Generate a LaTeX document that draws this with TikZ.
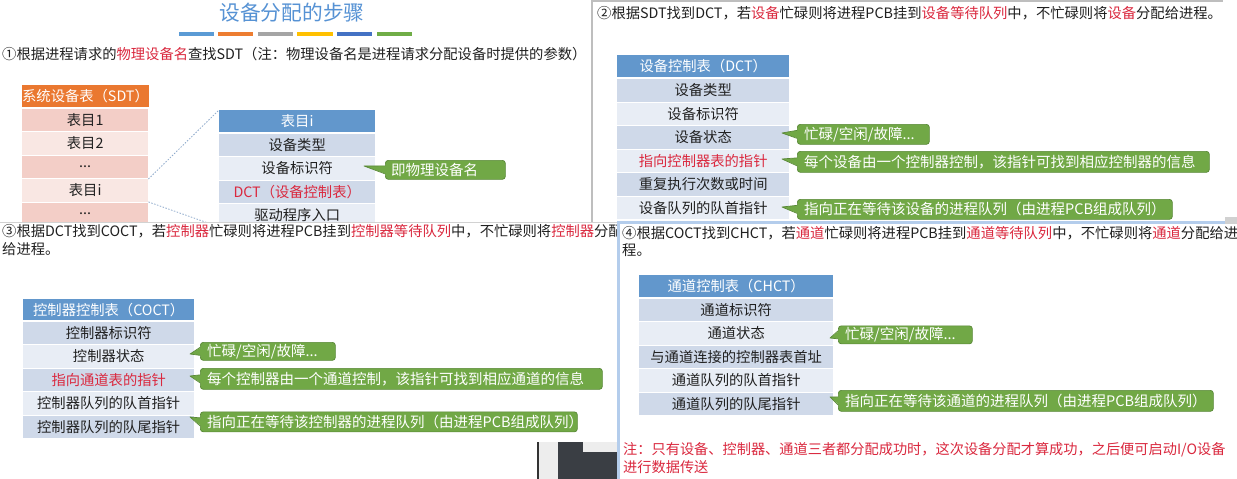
\documentclass[tikz,border=0pt]{standalone}
\usepackage{fontspec}
\setmainfont{Noto Sans CJK SC}
\usetikzlibrary{calc}
\definecolor{txtc}{RGB}{32,32,32}
\definecolor{redc}{RGB}{218,40,62}
\definecolor{titleb}{RGB}{86,146,212}
\definecolor{hblue}{RGB}{98,151,204}
\definecolor{rdark}{RGB}{207,217,233}
\definecolor{rlight}{RGB}{232,237,245}
\definecolor{horange}{RGB}{234,120,48}
\definecolor{sdark}{RGB}{243,206,199}
\definecolor{slight}{RGB}{249,231,227}
\definecolor{cgreen}{RGB}{113,168,70}
\definecolor{cgreenb}{RGB}{88,136,54}
\definecolor{bara}{RGB}{91,155,213}
\definecolor{barb}{RGB}{237,125,49}
\definecolor{barc}{RGB}{165,165,165}
\definecolor{bard}{RGB}{255,192,0}
\definecolor{bare}{RGB}{68,114,196}
\definecolor{barf}{RGB}{112,173,71}
\definecolor{dotc}{RGB}{143,170,204}
\definecolor{pgray}{RGB}{190,190,190}
\definecolor{pblue}{RGB}{180,205,236}
\definecolor{darkb}{RGB}{58,62,68}
\definecolor{lightb}{RGB}{237,237,237}
\newcommand\fsz[1]{\fontsize{#1pt}{#1pt}\selectfont}
\newcommand\redtx[1]{\textcolor{redc}{#1}}
\newcommand\wedgeto[2]{%
  \fill[cgreen] ($(#1.west)+(1,-4)$) -- #2 -- ($(#1.west)+(1,4)$) -- cycle;
  \draw[cgreenb, line width=0.7pt, line join=round] ($(#1.west)+(0,-4)$) -- #2 -- ($(#1.west)+(0,4)$);}
\tikzset{
  txt/.style={anchor=west, inner sep=0pt, font=\fsz{14.3}, text=txtc},
  cell/.style={anchor=north west, inner sep=0pt, font=\fsz{14.3}, text=txtc},
  hdrb/.style={cell, fill=hblue, text=white},
  rowd/.style={cell, fill=rdark},
  rowl/.style={cell, fill=rlight},
  hdro/.style={cell, fill=horange, text=white},
  sdtd/.style={cell, fill=sdark},
  sdtl/.style={cell, fill=slight},
  cbox/.style={anchor=north west, inner sep=0pt, fill=cgreen, draw=cgreenb, line width=0.7pt, rounded corners=3pt},
  ctext/.style={anchor=west, inner sep=0pt, text=white, font=\fsz{14.5}},
  zoomline/.style={dotc, line width=0.8pt, dash pattern=on 1.5pt off 1.5pt}
}
\begin{document}
\begin{tikzpicture}[x=1pt,y=-1pt]
\useasboundingbox (0,0) rectangle (1237,479);
\fill[white] (0,0) rectangle (1237,479);

% ---------------- Panel 1 ----------------
\node[anchor=center, inner sep=0pt, font=\fsz{20.7}, text=titleb] (title) at (292,13) {设备分配的步骤};
\fill[bara] (179,31.5) rectangle (214,35.5);
\fill[barb] (218,31.5) rectangle (253,35.5);
\fill[barc] (258,31.5) rectangle (293,35.5);
\fill[bard] (297,31.5) rectangle (333,35.5);
\fill[bare] (337,31.5) rectangle (372,35.5);
\fill[barf] (377,31.5) rectangle (412,35.5);
\node[txt] (t1) at (2,54) {①根据进程请求的\redtx{物理设备名}查找SDT（注：物理设备名是进程请求分配设备时提供的参数）};

\node[hdro, minimum width=126pt, minimum height=22pt] (sh) at (22,85) {系统设备表（SDT）};
\node[sdtd, minimum width=126pt, minimum height=22.5pt] (s1) at (22,108.5) {表目1};
\node[sdtl, minimum width=126pt, minimum height=22.5pt] (s2) at (22,132) {表目2};
\node[sdtd, minimum width=126pt, minimum height=22.5pt] (s3) at (22,155.5) {...};
\node[sdtl, minimum width=126pt, minimum height=22.5pt] (s4) at (22,179) {表目i};
\node[sdtd, minimum width=126pt, minimum height=22.5pt] (s5) at (22,202.5) {...};

\node[hdrb, minimum width=156pt, minimum height=22pt] (eh) at (219,110) {表目i};
\node[rowd, minimum width=156pt, minimum height=22.5pt] (e1) at (219,133.5) {设备类型};
\node[rowl, minimum width=156pt, minimum height=22.5pt] (e2) at (219,157) {设备标识符};
\node[rowd, minimum width=156pt, minimum height=22.5pt, text=redc] (e3) at (219,180.5) {DCT（设备控制表）};
\node[rowl, minimum width=156pt, minimum height=22.5pt] (e4) at (219,204) {驱动程序入口};
\draw[zoomline] (s4.north east) -- (eh.north west);
\draw[zoomline] (s4.south east) -- (e4.south west);

\node[cbox, minimum width=120pt, minimum height=19pt] (cA) at (385,160) {};
\node[ctext] (cAt) at ([xshift=6pt]cA.west) {即物理设备名};
\coordinate (tA) at (364,166);
\wedgeto{cA}{(tA)}

% ---------------- Panel 2 ----------------
\fill[white] (592,0) rectangle (1237,222);
\draw[pgray, line width=1.5pt] (592,0) -- (592,222);
\draw[pgray, line width=1.5pt] (592,1) -- (1223,1);
\node[txt] (t2) at (597,13) {②根据SDT找到DCT，若\redtx{设备}忙碌则将进程PCB挂到\redtx{设备等待队列}中，不忙碌则将\redtx{设备}分配给进程。};

\node[hdrb, minimum width=172pt, minimum height=22pt] (dh) at (617,55) {设备控制表（DCT）};
\node[rowd, minimum width=172pt, minimum height=22.5pt] (d1) at (617,79) {设备类型};
\node[rowl, minimum width=172pt, minimum height=22.5pt] (d2) at (617,102.5) {设备标识符};
\node[rowd, minimum width=172pt, minimum height=22.5pt] (d3) at (617,126) {设备状态};
\node[rowl, minimum width=172pt, minimum height=22.5pt, text=redc] (d4) at (617,149.5) {指向控制器表的指针};
\node[rowd, minimum width=172pt, minimum height=22.5pt] (d5) at (617,173) {重复执行次数或时间};
\node[rowl, minimum width=172pt, minimum height=22.5pt] (d6) at (617,196.5) {设备队列的队首指针};

\node[cbox, minimum width=132pt, minimum height=20pt] (cB1) at (797,124) {};
\node[ctext] (cB1t) at ([xshift=7pt]cB1.west) {忙碌/空闲/故障...};
\coordinate (tB1) at (782,133);
\wedgeto{cB1}{(tB1)}
\node[cbox, minimum width=412pt, minimum height=21pt] (cB2) at (797,151) {};
\node[ctext] (cB2t) at ([xshift=7pt]cB2.west) {每个设备由一个控制器控制，该指针可找到相应控制器的信息};
\coordinate (tB2) at (782,159);
\wedgeto{cB2}{(tB2)}
\node[cbox, minimum width=375pt, minimum height=20pt] (cB3) at (797,199) {};
\node[ctext] (cB3t) at ([xshift=7pt]cB3.west) {指向正在等待该设备的进程队列（由进程PCB组成队列）};
\coordinate (tB3) at (782,207);
\wedgeto{cB3}{(tB3)}

% ---------------- Panel 3 ----------------
\fill[white] (0,222) rectangle (617,479);
\draw[pgray!70, line width=0.8pt] (0,222.4) -- (617,222.4);
\node[txt] (t3a) at (2,231) {③根据DCT找到COCT，若\redtx{控制器}忙碌则将进程PCB挂到\redtx{控制器等待队列}中，不忙碌则将\redtx{控制器}分配};
\node[txt] (t3b) at (2,249) {给进程。};

\node[hdrb, minimum width=171pt, minimum height=21pt] (ch) at (23,299) {控制器控制表（COCT）};
\node[rowd, minimum width=171pt, minimum height=22.5pt] (c1) at (23,321.5) {控制器标识符};
\node[rowl, minimum width=171pt, minimum height=22.5pt] (c2) at (23,345) {控制器状态};
\node[rowd, minimum width=171pt, minimum height=22.5pt, text=redc] (c3) at (23,368.5) {指向通道表的指针};
\node[rowl, minimum width=171pt, minimum height=22.5pt] (c4) at (23,392) {控制器队列的队首指针};
\node[rowd, minimum width=171pt, minimum height=22.5pt] (c5) at (23,415.5) {控制器队列的队尾指针};

\node[cbox, minimum width=135pt, minimum height=18pt] (cC1) at (200,342) {};
\node[ctext] (cC1t) at ([xshift=7pt]cC1.west) {忙碌/空闲/故障...};
\coordinate (tC1) at (190,354);
\wedgeto{cC1}{(tC1)}
\node[cbox, minimum width=402pt, minimum height=21pt] (cC2) at (200,368) {};
\node[ctext] (cC2t) at ([xshift=7pt]cC2.west) {每个控制器由一个通道控制，该指针可找到相应通道的信息};
\coordinate (tC2) at (190,376);
\wedgeto{cC2}{(tC2)}
\node[cbox, minimum width=377pt, minimum height=20pt] (cC3) at (200,411.5) {};
\node[ctext] (cC3t) at ([xshift=7pt]cC3.west) {指向正在等待该控制器的进程队列（由进程PCB组成队列）};
\coordinate (tC3) at (190,417);
\wedgeto{cC3}{(tC3)}

% dark screen fragment
\fill[black!80] (537,442) rectangle (538.5,479);
\fill[lightb] (538.5,442) rectangle (558,479);
\fill[darkb] (558,442) rectangle (617,479);
\fill[lightb] (583,442) rectangle (617,452);

% ---------------- Panel 4 ----------------
\fill[white] (617,221) rectangle (1237,479);
\draw[pblue, line width=2.5pt] (618.25,479) -- (618.25,222.25) -- (1237,222.25);
\fill[black!18] (1225,217) rectangle (1237,224);
\node[txt] (t4a) at (622,233) {④根据COCT找到CHCT，若\redtx{通道}忙碌则将进程PCB挂到\redtx{通道等待队列}中，不忙碌则将\redtx{通道}分配给进};
\node[txt] (t4b) at (622,250) {程。};

\node[hdrb, minimum width=194pt, minimum height=22pt] (hh) at (639,275) {通道控制表（CHCT）};
\node[rowd, minimum width=194pt, minimum height=22.5pt] (h1) at (639,298.5) {通道标识符};
\node[rowl, minimum width=194pt, minimum height=22.5pt] (h2) at (639,322) {通道状态};
\node[rowd, minimum width=194pt, minimum height=22.5pt] (h3) at (639,345.5) {与通道连接的控制器表首址};
\node[rowl, minimum width=194pt, minimum height=22.5pt] (h4) at (639,369) {通道队列的队首指针};
\node[rowd, minimum width=194pt, minimum height=22.5pt] (h5) at (639,392.5) {通道队列的队尾指针};

\node[cbox, minimum width=134pt, minimum height=18pt] (cD1) at (838,325.5) {};
\node[ctext] (cD1t) at ([xshift=7pt]cD1.west) {忙碌/空闲/故障...};
\coordinate (tD1) at (830,338);
\wedgeto{cD1}{(tD1)}
\node[cbox, minimum width=375pt, minimum height=21pt] (cD2) at (838,390) {};
\node[ctext] (cD2t) at ([xshift=7pt]cD2.west) {指向正在等待该通道的进程队列（由进程PCB组成队列）};
\coordinate (tD2) at (830,397);
\wedgeto{cD2}{(tD2)}

\node[txt, text=redc, font=\fsz{14.2}] (n1) at (623,450) {注：只有设备、控制器、通道三者都分配成功时，这次设备分配才算成功，之后便可启动I/O设备};
\node[txt, text=redc, font=\fsz{14.2}] (n2) at (623,467) {进行数据传送};
\end{tikzpicture}
\end{document}
